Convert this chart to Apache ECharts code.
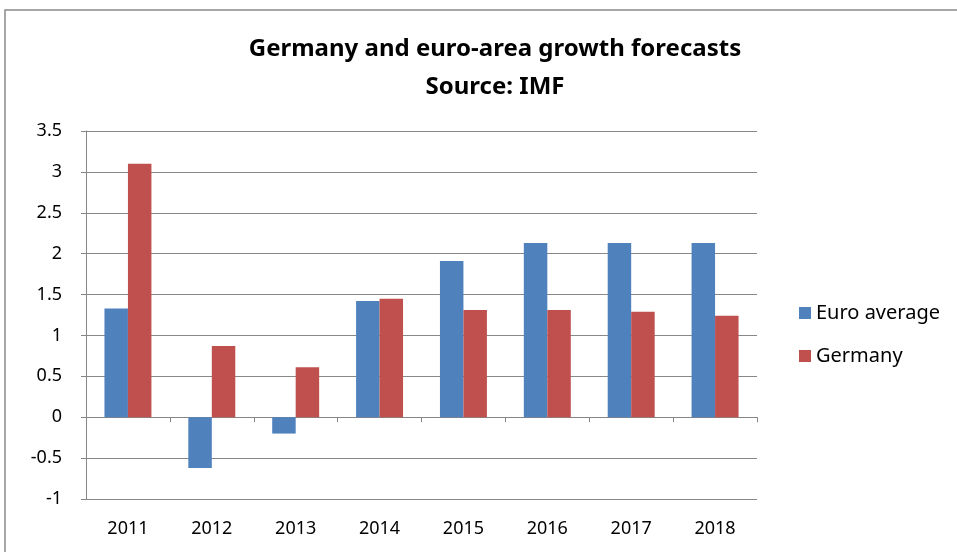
<!DOCTYPE html>
<html>
<head>
<meta charset="utf-8">
<script src="https://cdn.jsdelivr.net/npm/echarts@6/dist/echarts.min.js"></script>
<style>
html, body { margin: 0; padding: 0; background: #fff; }
#chart { width: 957px; height: 552px; }
</style>
</head>
<body>
<div id="chart"></div>
<script>
// data
var years = ['2011', '2012', '2013', '2014', '2015', '2016', '2017', '2018'];
var euroAverage = [1.33, -0.62, -0.20, 1.42, 1.91, 2.13, 2.13, 2.13];
var germany = [3.10, 0.87, 0.61, 1.45, 1.31, 1.31, 1.29, 1.24];

var font = '"Noto Sans", sans-serif';
var chart = echarts.init(document.getElementById('chart'));

var option = {
    animation: false,
    textStyle: { fontFamily: font },
    title: {
        text: 'Germany and euro-area growth forecasts\nSource: IMF',
        left: 490,
        top: 25,
        textAlign: 'center',
        textStyle: { fontFamily: font, fontSize: 24, fontWeight: 'bold', color: '#000', lineHeight: 38 }
    },
    legend: {
        orient: 'vertical',
        left: 794,
        top: 298,
        itemWidth: 12,
        itemHeight: 12,
        itemGap: 23,
        icon: 'rect',
        textStyle: { fontFamily: font, fontSize: 20, color: '#000' },
        data: ['Euro average', 'Germany']
    },
    grid: { left: 86, right: 200, top: 131, bottom: 53 },
    xAxis: [
        {
            type: 'category',
            data: years,
            axisLine: { onZero: true, lineStyle: { color: '#868686', width: 1 } },
            axisTick: { show: true, length: 5, lineStyle: { color: '#868686' } },
            axisLabel: { show: false },
            splitLine: { show: false }
        },
        {
            type: 'category',
            data: years,
            position: 'bottom',
            axisLine: { show: false, onZero: false },
            axisTick: { show: false },
            axisLabel: { margin: 21, fontFamily: font, fontSize: 18, color: '#000' }
        }
    ],
    yAxis: {
        type: 'value',
        min: -1,
        max: 3.5,
        interval: 0.5,
        axisLine: { show: true, lineStyle: { color: '#868686' } },
        axisTick: { show: true, length: 5, lineStyle: { color: '#868686' } },
        axisLabel: { margin: 24, fontFamily: font, fontSize: 18, color: '#000' },
        splitLine: { lineStyle: { color: '#888888', width: 1.2 } }
    },
    series: [
        {
            name: 'Euro average',
            type: 'bar',
            data: euroAverage,
            barGap: '0%',
            barCategoryGap: '44%',
            itemStyle: { color: '#4F81BD' }
        },
        {
            name: 'Germany',
            type: 'bar',
            data: germany,
            itemStyle: { color: '#C0504D' }
        }
    ],
    graphic: [
        {
            type: 'rect',
            shape: { x: 5, y: 10, width: 1200, height: 800 },
            style: { fill: 'none', stroke: '#8a8a8a', lineWidth: 1.5 },
            silent: true
        }
    ]
};

chart.setOption(option);
</script>
</body>
</html>
